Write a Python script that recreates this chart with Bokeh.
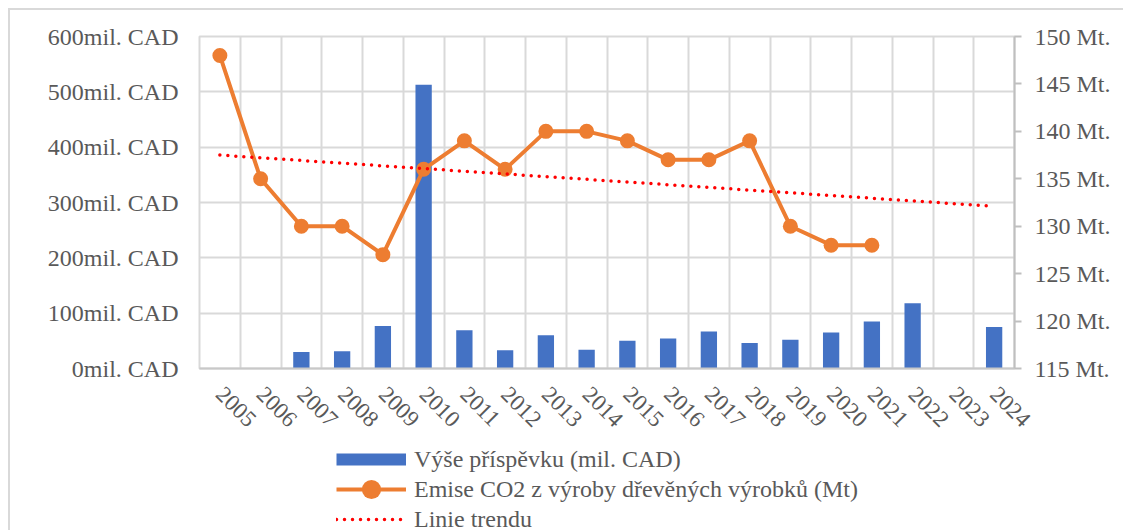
import numpy as np
from bokeh.plotting import figure
from bokeh.layouts import column
from bokeh.models import (Range1d, LinearAxis, FixedTicker, PrintfTickFormatter,
                          Legend, LegendItem, ColumnDataSource)
from bokeh.embed import file_html
from bokeh.resources import INLINE

# ---------------- data ----------------
years = [str(y) for y in range(2005, 2025)]
contributions = [None, None, 30, 31, 77, 513, 69, 33, 60, 34, 50, 54, 67, 46,
                 52, 65, 85, 118, None, 75]          # mil. CAD
emissions = [148, 135, 130, 130, 127, 136, 139, 136, 140, 140, 139, 137, 137,
             139, 130, 128, 128, None, None, None]   # Mt
trend_years = ["2005", "2024"]
trend_values = [137.5, 132.1]                        # Mt (trend line ends)
cad_ticks = [0, 100, 200, 300, 400, 500, 600]
mt_ticks = [115, 120, 125, 130, 135, 140, 145, 150]

bar_label = "Výše příspěvku (mil. CAD)"
em_label = "Emise CO2 z výroby dřevěných výrobků (Mt)"
trend_label = "Linie trendu"

# ---------------- style ----------------
FONT = "Liberation Serif"
GREY = "#595959"
GRID = "#d9d9d9"
BLUE = "#4472C4"
ORANGE = "#ED7D31"
RED = "#FF0000"
W = 1113

pos = {y: i + 0.5 for i, y in enumerate(years)}
centers = [pos[y] for y in years]

bar_src = ColumnDataSource(dict(
    x=[pos[y] for y, v in zip(years, contributions) if v is not None],
    top=[v for v in contributions if v is not None]))
em_src = ColumnDataSource(dict(
    x=[pos[y] for y, v in zip(years, emissions) if v is not None],
    y=[v for v in emissions if v is not None]))
trend_src = ColumnDataSource(dict(x=[pos[y] for y in trend_years], y=trend_values))

p = figure(width=W, height=434,
           x_range=Range1d(0, len(years)), y_range=Range1d(cad_ticks[0], cad_ticks[-1]),
           output_backend="svg", toolbar_location=None,
           min_border_left=189, min_border_right=109,
           min_border_top=26, min_border_bottom=76)
p.extra_y_ranges = {"co2": Range1d(mt_ticks[0], mt_ticks[-1])}
p.background_fill_color = "white"
p.border_fill_color = "white"
p.outline_line_color = GRID
p.outline_line_width = 2

p.xgrid.ticker = FixedTicker(ticks=list(range(len(years) + 1)))
p.ygrid.ticker = FixedTicker(ticks=cad_ticks)
p.xgrid.grid_line_color = GRID
p.ygrid.grid_line_color = GRID
p.xgrid.grid_line_width = 2
p.ygrid.grid_line_width = 2

# x axis with rotated year labels
xa = p.below[0]
xa.ticker = FixedTicker(ticks=centers)
xa.major_label_overrides = {c: y for c, y in zip(centers, years)}
xa.major_label_orientation = -np.pi / 4
xa.axis_line_color = "#c8c8c8"
xa.axis_line_width = 2
xa.major_tick_line_color = None
xa.minor_tick_line_color = None
xa.major_tick_out = 0
xa.major_tick_in = 0
xa.major_label_standoff = 22
xa.major_label_text_font = FONT
xa.major_label_text_font_size = "23px"
xa.major_label_text_color = GREY

# left axis
ya = p.left[0]
ya.ticker = FixedTicker(ticks=cad_ticks)
ya.formatter = PrintfTickFormatter(format="%dmil. CAD")
ya.axis_line_color = None
ya.major_tick_line_color = None
ya.minor_tick_line_color = None
ya.major_tick_out = 0
ya.major_tick_in = 0
ya.major_label_standoff = 21
ya.major_label_text_font = FONT
ya.major_label_text_font_size = "24px"
ya.major_label_text_color = GREY

# right axis
ra = LinearAxis(y_range_name="co2", ticker=FixedTicker(ticks=mt_ticks),
                formatter=PrintfTickFormatter(format="%d Mt."),
                axis_line_color="#bfbfbf", axis_line_width=2,
                major_tick_line_color="#bfbfbf", major_tick_line_width=2,
                major_tick_in=0, major_tick_out=7,
                minor_tick_line_color=None, major_label_standoff=13,
                major_label_text_font=FONT, major_label_text_font_size="24px",
                major_label_text_color=GREY)
p.add_layout(ra, "right")

# ---------------- glyphs ----------------
p.vbar(x="x", top="top", width=0.4, source=bar_src, fill_color=BLUE, line_color=None)
p.line("x", "y", source=em_src, y_range_name="co2", line_color=ORANGE, line_width=4)
p.scatter("x", "y", source=em_src, y_range_name="co2", size=15,
          fill_color=ORANGE, line_color=None)
p.line("x", "y", source=trend_src, y_range_name="co2",
       line_color=RED, line_width=3.5, line_dash="0 8", line_cap="round")

# ---------------- legend (separate strip below the chart) ----------------
# legend keys reuse the series sources; the strip's ranges keep them out of view
LH = 86
lf = figure(width=W, height=LH, x_range=Range1d(-3, -2), y_range=Range1d(-3, -2),
            output_backend="svg", toolbar_location=None,
            x_axis_type=None, y_axis_type=None,
            min_border_left=189, min_border_right=109, min_border_top=0, min_border_bottom=0)
lf.grid.visible = False
lf.outline_line_color = None
lf.background_fill_color = "white"
lf.border_fill_color = "white"

k_bar = lf.line("x", "top", source=bar_src, line_color=BLUE, line_width=12, line_cap="butt")
k_line = lf.line("x", "y", source=em_src, line_color=ORANGE, line_width=4)
k_pt = lf.scatter("x", "y", source=em_src, fill_color=ORANGE, line_color=None)
k_trend = lf.line("x", "y", source=trend_src, line_color=RED, line_width=3.5,
                  line_dash="0 8", line_cap="round")


def make_legend(item, gh, top):
    return Legend(items=[item], location=(137, LH - top - gh), orientation="vertical",
                  glyph_width=70, glyph_height=gh, label_height=gh,
                  padding=0, margin=0, spacing=0, label_standoff=8,
                  border_line_color=None, background_fill_alpha=0,
                  label_text_font=FONT, label_text_font_size="24px",
                  label_text_color=GREY)


lf.add_layout(make_legend(LegendItem(label=bar_label, renderers=[k_bar]), 30, 0))
lf.add_layout(make_legend(LegendItem(label=em_label, renderers=[k_line, k_pt]), 48, 21))
lf.add_layout(make_legend(LegendItem(label=trend_label, renderers=[k_trend]), 30, 60))

layout = column(p, lf, spacing=0)
layout.styles = {"margin-left": "8px", "margin-top": "8px",
                 "border-left": "2px solid #d9d9d9", "border-top": "2px solid #d9d9d9"}

open("out.html", "w").write(file_html(layout, INLINE))
